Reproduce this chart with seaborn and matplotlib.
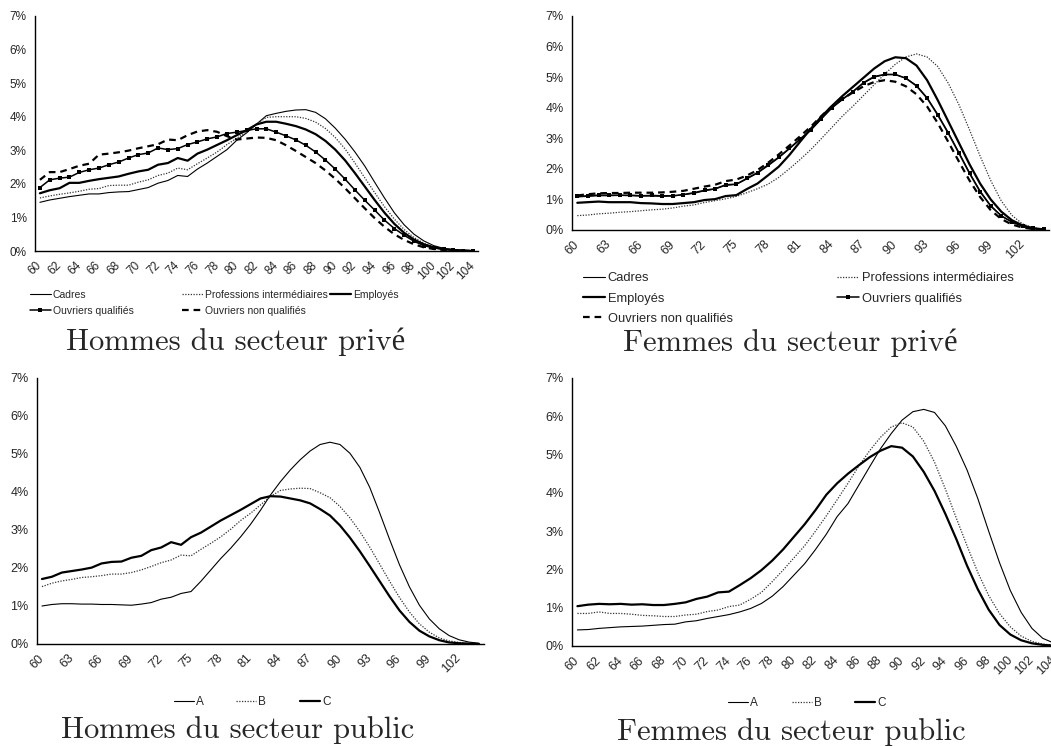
import numpy as np
import pandas as pd
import matplotlib
matplotlib.use("Agg")
import matplotlib.pyplot as plt
import seaborn as sns
from matplotlib.ticker import FixedLocator

W, H = 1051, 746

ages = list(range(60, 105))

# Hommes du secteur privé
hp_cadres = [1.45, 1.52, 1.57, 1.62, 1.66, 1.70, 1.70, 1.74, 1.76, 1.77,
             1.83, 1.89, 2.02, 2.10, 2.25, 2.22, 2.44, 2.62, 2.82, 3.02,
             3.30, 3.52, 3.78, 4.03, 4.10, 4.16, 4.20, 4.21, 4.13, 3.94,
             3.66, 3.33, 2.95, 2.53, 2.05, 1.58, 1.14, 0.78, 0.50, 0.30,
             0.16, 0.08, 0.04, 0.02, 0.01]
hp_pi = [1.58, 1.64, 1.69, 1.73, 1.78, 1.84, 1.86, 1.95, 1.96, 1.96,
         2.05, 2.12, 2.25, 2.32, 2.47, 2.42, 2.60, 2.77, 2.95, 3.17,
         3.36, 3.55, 3.78, 3.98, 4.00, 4.00, 4.00, 3.95, 3.84, 3.65,
         3.38, 3.04, 2.62, 2.18, 1.74, 1.32, 0.95, 0.64, 0.40, 0.23,
         0.12, 0.06, 0.03, 0.01, 0.00]
hp_emp = [1.72, 1.81, 1.87, 2.03, 2.03, 2.09, 2.14, 2.18, 2.22, 2.30,
          2.37, 2.42, 2.57, 2.62, 2.77, 2.69, 2.90, 3.02, 3.16, 3.30,
          3.45, 3.60, 3.77, 3.85, 3.85, 3.79, 3.72, 3.62, 3.48, 3.28,
          3.02, 2.70, 2.32, 1.92, 1.52, 1.14, 0.81, 0.54, 0.34, 0.20,
          0.11, 0.06, 0.03, 0.01, 0.00]
hp_oq = [1.89, 2.12, 2.17, 2.20, 2.34, 2.42, 2.47, 2.57, 2.65, 2.77,
         2.87, 2.92, 3.07, 3.02, 3.05, 3.17, 3.25, 3.34, 3.40, 3.50,
         3.54, 3.59, 3.64, 3.64, 3.54, 3.43, 3.31, 3.15, 2.95, 2.71,
         2.44, 2.14, 1.82, 1.51, 1.22, 0.92, 0.67, 0.47, 0.29, 0.16,
         0.09, 0.05, 0.02, 0.01, 0.00]
hp_onq = [2.12, 2.35, 2.35, 2.44, 2.54, 2.60, 2.87, 2.90, 2.94, 2.99,
          3.06, 3.12, 3.18, 3.32, 3.30, 3.45, 3.56, 3.60, 3.55, 3.42,
          3.32, 3.35, 3.38, 3.37, 3.30, 3.15, 2.98, 2.80, 2.62, 2.40,
          2.15, 1.87, 1.57, 1.27, 0.98, 0.72, 0.50, 0.33, 0.20, 0.11,
          0.06, 0.03, 0.01, 0.01, 0.00]

# Femmes du secteur privé
fp_cadres = [1.08, 1.10, 1.12, 1.12, 1.13, 1.12, 1.11, 1.11, 1.10, 1.11,
             1.15, 1.20, 1.28, 1.34, 1.46, 1.49, 1.67, 1.86, 2.10, 2.36,
             2.65, 2.95, 3.25, 3.62, 3.98, 4.26, 4.52, 4.80, 5.00, 5.08,
             5.08, 4.97, 4.73, 4.33, 3.79, 3.19, 2.54, 1.88, 1.28, 0.80,
             0.47, 0.26, 0.13, 0.05, 0.02]
fp_pi = [0.47, 0.49, 0.53, 0.55, 0.58, 0.60, 0.63, 0.66, 0.68, 0.72,
         0.78, 0.82, 0.90, 0.96, 1.02, 1.10, 1.22, 1.35, 1.50, 1.72,
         2.00, 2.30, 2.62, 2.98, 3.35, 3.72, 4.05, 4.40, 4.75, 5.10,
         5.42, 5.66, 5.76, 5.66, 5.35, 4.80, 4.10, 3.28, 2.42, 1.62,
         0.95, 0.48, 0.20, 0.07, 0.02]
fp_emp = [0.89, 0.91, 0.93, 0.91, 0.91, 0.91, 0.88, 0.87, 0.85, 0.85,
          0.88, 0.91, 0.98, 1.01, 1.11, 1.14, 1.34, 1.52, 1.79, 2.07,
          2.45, 2.88, 3.30, 3.70, 4.05, 4.38, 4.68, 4.98, 5.28, 5.52,
          5.65, 5.62, 5.38, 4.90, 4.25, 3.55, 2.85, 2.15, 1.52, 1.00,
          0.60, 0.32, 0.15, 0.06, 0.02]
fp_oq = [1.10, 1.12, 1.14, 1.14, 1.14, 1.14, 1.12, 1.13, 1.12, 1.12,
         1.16, 1.22, 1.30, 1.35, 1.48, 1.50, 1.69, 1.88, 2.13, 2.38,
         2.67, 2.97, 3.27, 3.64, 4.00, 4.28, 4.53, 4.82, 5.02, 5.09,
         5.09, 4.96, 4.71, 4.31, 3.76, 3.16, 2.51, 1.85, 1.25, 0.78,
         0.46, 0.26, 0.13, 0.05, 0.02]
fp_onq = [1.13, 1.17, 1.20, 1.21, 1.21, 1.22, 1.22, 1.22, 1.23, 1.25,
          1.28, 1.35, 1.42, 1.48, 1.60, 1.65, 1.78, 1.96, 2.20, 2.47,
          2.76, 3.06, 3.37, 3.72, 4.04, 4.28, 4.50, 4.70, 4.84, 4.90,
          4.85, 4.70, 4.44, 4.04, 3.50, 2.88, 2.24, 1.62, 1.08, 0.65,
          0.36, 0.18, 0.08, 0.03, 0.01]

# Hommes du secteur public
hpub_a = [1.00, 1.04, 1.06, 1.06, 1.05, 1.05, 1.04, 1.04, 1.03, 1.02,
          1.05, 1.09, 1.18, 1.23, 1.33, 1.38, 1.65, 1.95, 2.25, 2.52,
          2.82, 3.15, 3.52, 3.92, 4.27, 4.58, 4.85, 5.08, 5.25, 5.31,
          5.25, 5.02, 4.65, 4.12, 3.45, 2.75, 2.08, 1.50, 1.02, 0.66,
          0.40, 0.22, 0.11, 0.05, 0.02]
hpub_b = [1.51, 1.60, 1.66, 1.70, 1.75, 1.77, 1.80, 1.84, 1.84, 1.88,
          1.95, 2.04, 2.14, 2.21, 2.34, 2.32, 2.49, 2.65, 2.82, 3.02,
          3.25, 3.44, 3.66, 3.88, 4.04, 4.08, 4.10, 4.09, 3.98, 3.85,
          3.62, 3.32, 2.96, 2.55, 2.10, 1.65, 1.22, 0.84, 0.53, 0.31,
          0.16, 0.08, 0.04, 0.01, 0.00]
hpub_c = [1.71, 1.77, 1.88, 1.92, 1.96, 2.01, 2.12, 2.16, 2.17, 2.27,
          2.32, 2.47, 2.54, 2.68, 2.61, 2.81, 2.93, 3.09, 3.25, 3.39,
          3.53, 3.68, 3.83, 3.89, 3.88, 3.83, 3.78, 3.70, 3.55, 3.38,
          3.12, 2.80, 2.44, 2.05, 1.65, 1.25, 0.88, 0.58, 0.35, 0.20,
          0.10, 0.04, 0.02, 0.01, 0.00]

# Femmes du secteur public
fpub_a = [0.42, 0.43, 0.46, 0.48, 0.50, 0.51, 0.52, 0.54, 0.56, 0.57,
          0.63, 0.66, 0.72, 0.77, 0.82, 0.89, 0.98, 1.11, 1.30, 1.55,
          1.85, 2.15, 2.52, 2.92, 3.38, 3.72, 4.20, 4.68, 5.15, 5.55,
          5.90, 6.12, 6.18, 6.10, 5.75, 5.22, 4.60, 3.85, 3.00, 2.18,
          1.45, 0.88, 0.46, 0.20, 0.08]
fpub_b = [0.85, 0.85, 0.89, 0.85, 0.85, 0.83, 0.80, 0.79, 0.77, 0.77,
          0.81, 0.83, 0.90, 0.94, 1.03, 1.07, 1.22, 1.40, 1.68, 1.98,
          2.30, 2.62, 3.00, 3.40, 3.82, 4.25, 4.70, 5.10, 5.45, 5.72,
          5.83, 5.72, 5.35, 4.80, 4.10, 3.35, 2.62, 1.92, 1.32, 0.85,
          0.50, 0.26, 0.12, 0.05, 0.02]
fpub_c = [1.04, 1.08, 1.10, 1.09, 1.10, 1.08, 1.09, 1.07, 1.07, 1.10,
          1.14, 1.23, 1.29, 1.40, 1.42, 1.59, 1.77, 1.98, 2.23, 2.52,
          2.85, 3.18, 3.55, 3.95, 4.25, 4.50, 4.72, 4.93, 5.10, 5.22,
          5.18, 4.95, 4.55, 4.05, 3.45, 2.80, 2.10, 1.48, 0.95, 0.55,
          0.30, 0.15, 0.07, 0.03, 0.01]

CSP_LABELS = ["Cadres", "Professions intermédiaires", "Employés",
              "Ouvriers qualifiés", "Ouvriers non qualifiés"]
PUB_LABELS = ["A", "B", "C"]

# line styles: thin solid, dotted, thick solid, solid + squares, thick dashed
CSP_STYLES = [
    dict(lw=0.8, ls="-"),
    dict(lw=0.9, ls=(0, (1, 1.2)), color="#333333"),
    dict(lw=1.6, ls="-"),
    dict(lw=1.1, ls="-", marker="s", markersize=2.2),
    dict(lw=1.6, ls=(0, (3, 2.2))),
]
PUB_STYLES = [
    dict(lw=0.8, ls="-"),
    dict(lw=0.9, ls=(0, (1, 1.2)), color="#333333"),
    dict(lw=1.6, ls="-"),
]

TITLE_FONT = ["cmr10", "Liberation Serif"]


def box(left, top, right, bottom):
    return [left / W, 1 - bottom / H, (right - left) / W, (bottom - top) / H]


def draw_panel(ax, series, labels, styles):
    df = pd.DataFrame({"age": ages})
    for lab, vals in zip(labels, series):
        df[lab] = vals
    handles = []
    for lab, st in zip(labels, styles):
        st = dict(st)
        color = st.pop("color", "black")
        lw = st.pop("lw")
        ls = st.pop("ls")
        sns.lineplot(data=df, x="age", y=lab, ax=ax, color=color,
                     linewidth=lw, linestyle=ls, legend=False,
                     markeredgewidth=0, **st)
        handles.append(ax.lines[-1])
    return handles


def style_axis(ax, step, fs_x, fs_y):
    ax.set_xlim(59.5, 104.5)
    ax.set_ylim(0, 7)
    ax.set_yticks(range(8))
    ax.set_yticklabels([f"{v}%" for v in range(8)], fontsize=fs_y)
    lab_ages = list(range(60, 105, step))
    ax.set_xticks(lab_ages)
    ax.set_xticklabels([str(a) for a in lab_ages], rotation=45,
                       ha="right", va="center", rotation_mode="anchor",
                       fontsize=fs_x)
    ax.xaxis.set_minor_locator(FixedLocator(np.arange(59.5, 105, 1)))
    ax.tick_params(axis="x", which="major", length=0, pad=9)
    ax.tick_params(axis="x", which="minor", length=4, width=0.8,
                   direction="out", color="black")
    ax.tick_params(axis="y", length=4, width=0.8, direction="out",
                   pad=2, color="black")
    for s in ["top", "right"]:
        ax.spines[s].set_visible(False)
    for s in ["left", "bottom"]:
        ax.spines[s].set_color("black")
        ax.spines[s].set_linewidth(1.0)
    ax.set_xlabel("")
    ax.set_ylabel("")
    ax.grid(False)


def add_entries(fig, handles, labels, places, fs, hl):
    for h, lab, (x, y) in zip(handles, labels, places):
        fig.legend([h], [lab], loc="center left",
                   bbox_to_anchor=(x / W, 1 - y / H),
                   bbox_transform=fig.transFigure, frameon=False,
                   fontsize=fs, handlelength=hl, handletextpad=0.2,
                   borderpad=0, borderaxespad=0, numpoints=1)


def main():
    sns.set_style("white")
    plt.rcParams["font.family"] = ["Liberation Sans", "DejaVu Sans"]

    fig = plt.figure(figsize=(W / 100, H / 100), dpi=100)

    ax1 = fig.add_axes(box(35, 16, 478, 251))
    h1 = draw_panel(ax1, [hp_cadres, hp_pi, hp_emp, hp_oq, hp_onq],
                    CSP_LABELS, CSP_STYLES)
    style_axis(ax1, 2, 8.5, 8.5)
    add_entries(fig, h1, CSP_LABELS,
                [(30, 295), (182, 295), (330, 295), (30, 311), (182, 311)],
                7.5, 2.0)

    ax2 = fig.add_axes(box(572, 16, 1049, 230))
    h2 = draw_panel(ax2, [fp_cadres, fp_pi, fp_emp, fp_oq, fp_onq],
                    CSP_LABELS, CSP_STYLES)
    style_axis(ax2, 3, 9, 9)
    add_entries(fig, h2, CSP_LABELS,
                [(583, 278), (837, 278), (583, 299), (837, 299), (583, 319)],
                9.3, 1.7)

    ax3 = fig.add_axes(box(37, 378, 484, 644))
    h3 = draw_panel(ax3, [hpub_a, hpub_b, hpub_c], PUB_LABELS, PUB_STYLES)
    style_axis(ax3, 3, 9, 9)
    add_entries(fig, h3, PUB_LABELS, [(174, 702), (236, 702), (300, 702)],
                8.5, 1.7)

    ax4 = fig.add_axes(box(572, 378, 1059, 646))
    h4 = draw_panel(ax4, [fpub_a, fpub_b, fpub_c], PUB_LABELS, PUB_STYLES)
    style_axis(ax4, 2, 9, 9)
    add_entries(fig, h4, PUB_LABELS, [(728, 703), (792, 703), (855, 703)],
                8.5, 1.7)

    titles = [("Hommes du secteur privé", 236, 342),
              ("Femmes du secteur privé", 790, 343),
              ("Hommes du secteur public", 238, 730),
              ("Femmes du secteur public", 791, 732)]
    for txt, x, y in titles:
        fig.text(x / W, 1 - y / H, txt, ha="center", va="center",
                 fontsize=22, family=TITLE_FONT)

    fig.savefig("out.png", dpi=100)
    plt.close(fig)


if __name__ == "__main__":
    main()
